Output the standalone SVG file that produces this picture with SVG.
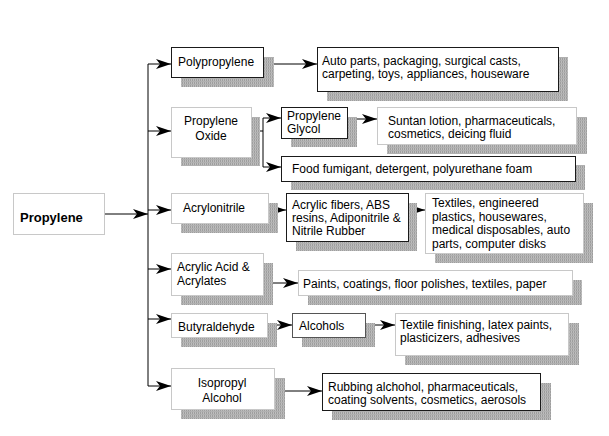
<svg xmlns="http://www.w3.org/2000/svg" width="609" height="436" viewBox="0 0 609 436">
<defs>
<pattern id="hatch" width="2" height="3" patternUnits="userSpaceOnUse">
<rect width="2" height="3" fill="#bdbdbd"/>
<rect width="1" height="3" fill="#9e9e9e"/>
<rect width="2" height="1" fill="#b0b0b0"/>
</pattern>
<marker id="ah" markerUnits="userSpaceOnUse" markerWidth="15" markerHeight="10" refX="15" refY="5" orient="auto">
<path d="M0,0 L15,5 L0,10 L4,5 z" fill="#000"/>
</marker>
<style>
.sh{fill:url(#hatch)}
.bd{fill:#fff;stroke:#1a1a1a;stroke-width:1}
.bl{fill:#fff;stroke:#c8c8c8;stroke-width:1}
text{font-family:"Liberation Sans",Arial,sans-serif;font-size:12px;fill:#000}
.c{text-anchor:middle}
.b{font-weight:bold;font-size:13px}
.ln{fill:none;stroke:#000;stroke-width:1}
.ar{fill:none;stroke:#000;stroke-width:1;marker-end:url(#ah)}
</style>
</defs>
<rect width="609" height="436" fill="#fff"/>

<g id="connectors">
<path class="ln" d="M148,64 V386"/>
<path class="ar" d="M104,214 H148"/>
<path class="ar" d="M148,64 H171"/>
<path class="ar" d="M148,131 H171"/>
<path class="ar" d="M148,210 H171"/>
<path class="ar" d="M148,269 H171"/>
<path class="ar" d="M148,319 H171"/>
<path class="ar" d="M148,386 H171"/>
<path class="ar" d="M263,64 H317"/>
<path class="ln" d="M251,131 H263 M263,118 V167"/>
<path class="ar" d="M263,118 H281"/>
<path class="ar" d="M263,167 H281"/>
<path class="ar" d="M347,119 H377"/>
<path class="ar" d="M268,210 H286"/>
<path class="ar" d="M408,210 H425"/>
<path class="ar" d="M263,283 H298"/>
<path class="ar" d="M267,325 H292"/>
<path class="ar" d="M365,325 H395"/>
<path class="ar" d="M274,391 H322"/>
</g>

<g id="propylene">
<rect class="bl" x="13.5" y="193.5" width="91" height="41"/>
<text class="b" x="20" y="222">Propylene</text>
</g>

<g id="polypropylene">
<rect class="sh" x="181" y="57" width="93" height="30"/>
<rect class="bd" x="171.5" y="47.5" width="92" height="30"/>
<text x="178" y="66">Polypropylene</text>
</g>

<g id="auto-parts">
<rect class="sh" x="327" y="57" width="241" height="44"/>
<rect class="bd" x="317.5" y="47.5" width="241" height="44"/>
<text x="322" y="65">Auto parts, packaging, surgical casts,</text>
<text x="322" y="78">carpeting, toys, appliances, houseware</text>
</g>

<g id="propylene-oxide">
<rect class="sh" x="181" y="117" width="79" height="49"/>
<rect class="bl" x="171.5" y="107.5" width="80" height="50"/>
<text class="c" x="211" y="125">Propylene</text>
<text class="c" x="211" y="140">Oxide</text>
</g>

<g id="propylene-glycol">
<rect class="sh" x="291" y="117" width="66" height="30"/>
<rect class="bd" x="281.5" y="107.5" width="66" height="31"/>
<text x="287" y="120">Propylene</text>
<text x="287" y="133">Glycol</text>
</g>

<g id="suntan">
<rect class="sh" x="387" y="117" width="200" height="37"/>
<rect class="bl" x="377.5" y="107.5" width="199" height="37"/>
<text x="388" y="125">Suntan lotion, pharmaceuticals,</text>
<text x="388" y="138">cosmetics, deicing fluid</text>
</g>

<g id="food-fumigant">
<rect class="sh" x="291" y="165" width="294" height="25"/>
<rect class="bd" x="281.5" y="156.5" width="294" height="25"/>
<text x="292" y="173">Food fumigant, detergent, polyurethane foam</text>
</g>

<g id="acrylonitrile">
<rect class="sh" x="181" y="203" width="97" height="30"/>
<rect class="bl" x="171.5" y="193.5" width="97" height="30"/>
<text x="183" y="212">Acrylonitrile</text>
</g>

<g id="acrylic-fibers">
<rect class="sh" x="296" y="203" width="121" height="48"/>
<rect class="bd" x="286.5" y="193.5" width="122" height="48"/>
<text x="292" y="209">Acrylic fibers, ABS</text>
<text x="292" y="222">resins, Adiponitrile &amp;</text>
<text x="292" y="235">Nitrile Rubber</text>
</g>

<g id="textiles">
<rect class="sh" x="435" y="203" width="158" height="60"/>
<rect class="bl" x="425.5" y="193.5" width="158" height="60"/>
<text x="432" y="207">Textiles, engineered</text>
<text x="432" y="220.5">plastics, housewares,</text>
<text x="432" y="234">medical disposables, auto</text>
<text x="432" y="247.5">parts, computer disks</text>
</g>

<g id="acrylic-acid">
<rect class="sh" x="181" y="263" width="92" height="42"/>
<rect class="bl" x="171.5" y="253.5" width="92" height="42"/>
<text x="177" y="271">Acrylic Acid &amp;</text>
<text x="177" y="285">Acrylates</text>
</g>

<g id="paints">
<rect class="sh" x="308" y="280" width="274" height="25"/>
<rect class="bl" x="298.5" y="270.5" width="274" height="25"/>
<text x="303" y="288">Paints, coatings, floor polishes, textiles, paper</text>
</g>

<g id="butyraldehyde">
<rect class="sh" x="181" y="323" width="96" height="24"/>
<rect class="bl" x="171.5" y="313.5" width="96" height="24"/>
<text x="178" y="331">Butyraldehyde</text>
</g>

<g id="alcohols">
<rect class="sh" x="302" y="323" width="73" height="24"/>
<rect class="bd" x="292.5" y="313.5" width="73" height="24" style="stroke:#555"/>
<text x="299" y="330">Alcohols</text>
</g>

<g id="textile-finishing">
<rect class="sh" x="405" y="323" width="174" height="42"/>
<rect class="bl" x="395.5" y="313.5" width="173" height="42"/>
<text x="400" y="329">Textile finishing, latex paints,</text>
<text x="400" y="342">plasticizers, adhesives</text>
</g>

<g id="isopropyl-alcohol">
<rect class="sh" x="181" y="378" width="104" height="41"/>
<rect class="bl" x="171.5" y="368.5" width="103" height="41"/>
<text class="c" x="222" y="387">Isopropyl</text>
<text class="c" x="222" y="402">Alcohol</text>
</g>

<g id="rubbing">
<rect class="sh" x="332" y="383" width="219" height="37"/>
<rect class="bd" x="322.5" y="373.5" width="218" height="37"/>
<text x="328" y="391">Rubbing alchohol, pharmaceuticals,</text>
<text x="328" y="404">coating solvents, cosmetics, aerosols</text>
</g>
</svg>
